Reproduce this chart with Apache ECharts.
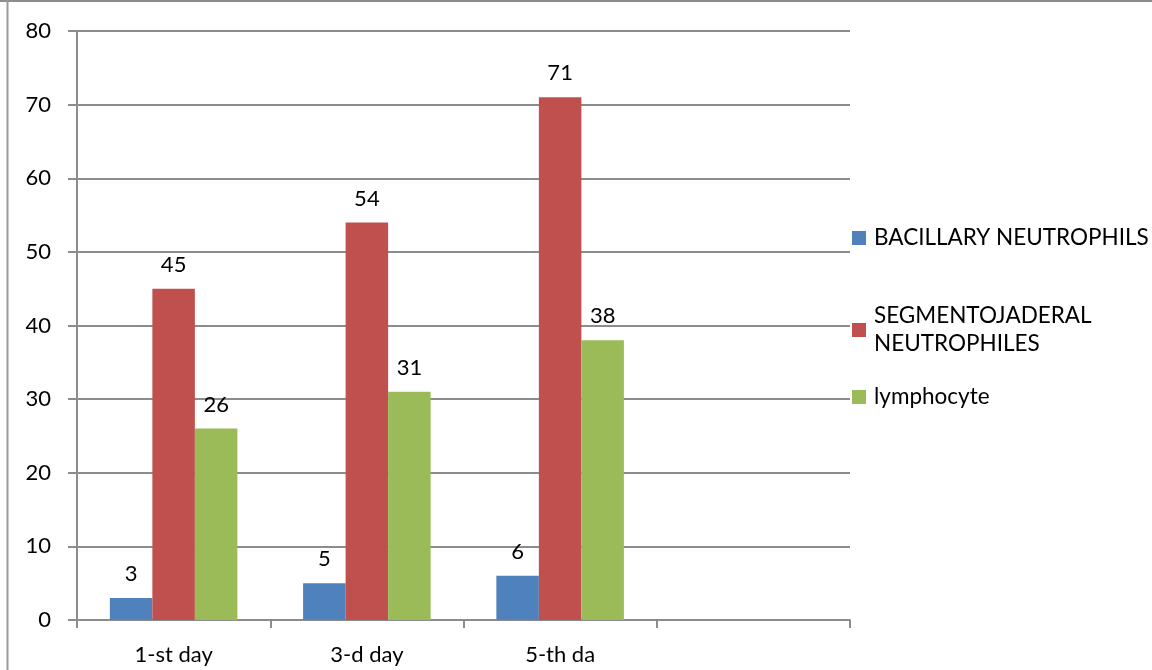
<!DOCTYPE html>
<html>
<head>
<meta charset="utf-8">
<script src="https://cdn.jsdelivr.net/npm/echarts@6/dist/echarts.min.js"></script>
<style>
  html, body { margin: 0; padding: 0; background: #fff; }
  #chart { width: 1152px; height: 670px; }
</style>
</head>
<body>
<div id="chart"></div>
<script>
// Blood cell counts by day of observation
const categories = ['1-st day', '3-d day', '5-th da', ''];
const bacillary = [3, 5, 6, null];
const segmented = [45, 54, 71, null];
const lymphocyte = [26, 31, 38, null];
const yTicks = { min: 0, max: 80, interval: 10 };

const seriesNames = ['BACILLARY NEUTROPHILS', 'SEGMENTOJADERAL NEUTROPHILES', 'lymphocyte'];
const colors = ['#4f81bd', '#c0504d', '#9bbb59'];
const FONT = 'Lato, "Open Sans", sans-serif';
const FS = 22;

const chart = echarts.init(document.getElementById('chart'), null, { renderer: 'canvas' });

function barSeries(name, data, color) {
  return {
    name: name,
    type: 'bar',
    data: data,
    barGap: '0%',
    barCategoryGap: '34%',
    itemStyle: { color: color },
    label: {
      show: true,
      position: 'top',
      distance: 13,
      color: '#000',
      fontSize: FS,
      fontFamily: FONT
    },
    emphasis: { disabled: true },
    animation: false
  };
}

function legendFor(name, top, extraText) {
  return {
    data: [name],
    orient: 'vertical',
    left: 852,
    top: top,
    itemWidth: 14,
    itemHeight: 14,
    itemGap: 0,
    itemStyle: { borderWidth: 0 },
    icon: 'rect',
    selectedMode: false,
    padding: 0,
    formatter: extraText ? (n) => extraText : undefined,
    textStyle: {
      color: '#000',
      fontSize: FS + 0.5,
      fontFamily: FONT,
      lineHeight: 28,
      padding: extraText ? [28, 0, 0, 3] : [0, 0, 0, 3]
    }
  };
}

chart.setOption({
  backgroundColor: '#ffffff',
  animation: false,
  grid: { left: 77, right: 302, top: 31, bottom: 50, containLabel: false },
  legend: [
    legendFor(seriesNames[0], 224, null),
    legendFor(seriesNames[1], 288, 'SEGMENTOJADERAL\nNEUTROPHILES'),
    legendFor(seriesNames[2], 383, null)
  ],
  xAxis: {
    type: 'category',
    data: categories,
    axisLine: { show: true, lineStyle: { color: '#8c8c8c', width: 2 } },
    axisTick: { show: true, length: 8, alignWithLabel: false, lineStyle: { color: '#8c8c8c', width: 2 } },
    axisLabel: { color: '#000', fontSize: FS, fontFamily: FONT, margin: 24, interval: 0 },
    splitLine: { show: false }
  },
  yAxis: {
    type: 'value',
    min: yTicks.min,
    max: yTicks.max,
    interval: yTicks.interval,
    axisLine: { show: true, lineStyle: { color: '#8c8c8c', width: 2 } },
    axisTick: { show: true, length: 9, lineStyle: { color: '#8c8c8c', width: 2 } },
    axisLabel: { color: '#000', fontSize: FS, fontFamily: FONT, margin: 26 },
    splitLine: { show: true, lineStyle: { color: '#8c8c8c', width: 2 } }
  },
  series: [
    barSeries(seriesNames[0], bacillary, colors[0]),
    barSeries(seriesNames[1], segmented, colors[1]),
    barSeries(seriesNames[2], lymphocyte, colors[2])
  ],
  graphic: [
    { type: 'line', silent: true, shape: { x1: 0, y1: 1, x2: 1152, y2: 1 }, style: { stroke: '#8c8c8c', lineWidth: 2 } },
    { type: 'line', silent: true, shape: { x1: 7.5, y1: 0, x2: 7.5, y2: 670 }, style: { stroke: '#9a9a9a', lineWidth: 2 } }
  ]
});
</script>
</body>
</html>
